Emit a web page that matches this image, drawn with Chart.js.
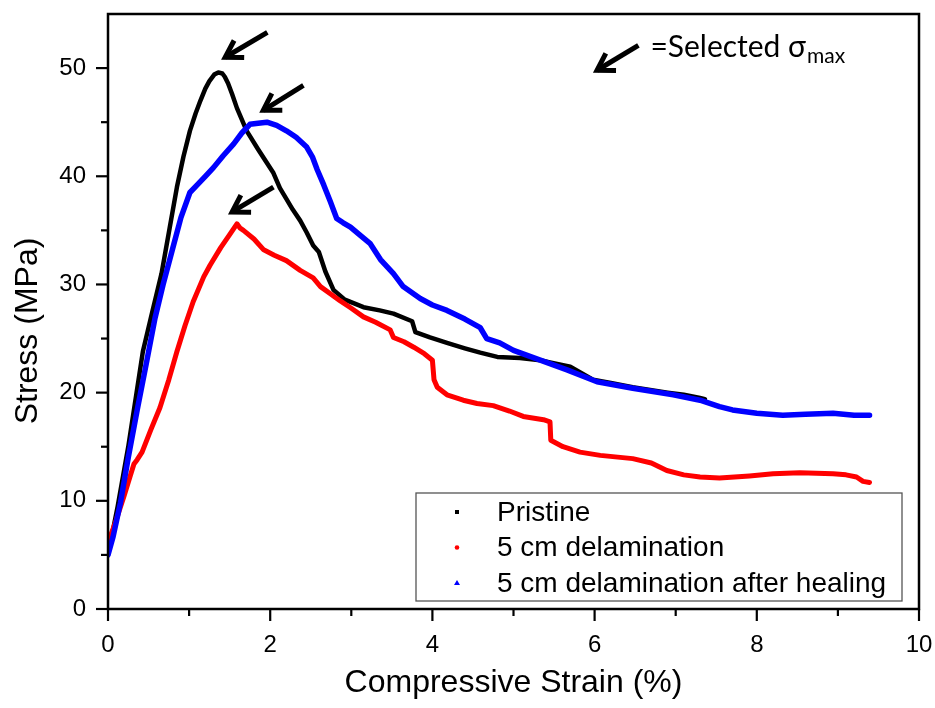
<!DOCTYPE html>
<html><head><meta charset="utf-8">
<script src="https://cdn.jsdelivr.net/npm/chart.js@4.4.0/dist/chart.umd.min.js"></script>
<style>html,body{margin:0;padding:0;background:#fff;}canvas{display:block;}</style>
</head><body>
<canvas id="c" width="935" height="708"></canvas>
<script>
// ---- data ----
const seriesLabels = ['Pristine', '5 cm delamination', '5 cm delamination after healing'];

const pristineX = [0, 0.12, 0.25, 0.43, 0.55, 0.66, 0.76, 0.85, 0.93, 1.01, 1.08, 1.14, 1.2, 1.25, 1.31, 1.36, 1.41, 1.44, 1.48, 1.53, 1.59, 1.71, 1.85, 2.04, 2.12, 2.28, 2.37, 2.45, 2.53, 2.6, 2.68, 2.78, 2.92, 3.15, 3.35, 3.52, 3.75, 3.79, 3.97, 4.18, 4.4, 4.59, 4.8, 5.08, 5.33, 5.45, 5.7, 5.98, 6.2, 6.47, 6.9, 7.1, 7.3, 7.36];
const pristineY = [5, 9.5, 15, 23.8, 27.6, 31, 35.2, 39, 41.8, 44.2, 45.8, 47, 48.1, 48.8, 49.4, 49.6, 49.5, 49.2, 48.6, 47.6, 46.3, 44.2, 42.5, 40.3, 38.9, 36.9, 35.9, 34.8, 33.6, 33.0, 31.2, 29.5, 28.6, 27.9, 27.6, 27.3, 26.6, 25.6, 25.1, 24.6, 24.1, 23.7, 23.3, 23.2, 23.0, 22.8, 22.4, 21.2, 20.9, 20.5, 20.0, 19.8, 19.5, 19.4];

const delamX = [0, 0.1, 0.2, 0.27, 0.32, 0.36, 0.42, 0.53, 0.64, 0.75, 0.85, 0.95, 1.05, 1.18, 1.26, 1.39, 1.5, 1.59, 1.63, 1.67, 1.8, 1.92, 2.05, 2.2, 2.37, 2.53, 2.62, 2.75, 2.86, 3.0, 3.15, 3.3, 3.48, 3.52, 3.65, 3.77, 3.9, 4.0, 4.02, 4.06, 4.18, 4.38, 4.55, 4.75, 4.95, 5.12, 5.37, 5.45, 5.46, 5.61, 5.82, 6.07, 6.47, 6.7, 6.89, 7.1, 7.3, 7.54, 7.91, 8.2, 8.53, 8.94, 9.1, 9.23, 9.31, 9.39];
const delamY = [6.1, 8.2, 10.5, 12.2, 13.4, 13.8, 14.5, 16.6, 18.6, 21.2, 23.8, 26.2, 28.4, 30.7, 31.8, 33.4, 34.6, 35.6, 35.2, 35.0, 34.2, 33.2, 32.7, 32.2, 31.3, 30.6, 29.8, 29.1, 28.5, 27.8, 27.0, 26.5, 25.8, 25.1, 24.7, 24.2, 23.6, 23.0, 21.2, 20.5, 19.8, 19.3, 19.0, 18.8, 18.3, 17.8, 17.5, 17.3, 15.6, 15.0, 14.5, 14.2, 13.9, 13.5, 12.8, 12.4, 12.2, 12.1, 12.3, 12.5, 12.6, 12.5, 12.4, 12.2, 11.8, 11.7];

const healedX = [0, 0.06, 0.153, 0.25, 0.36, 0.48, 0.58, 0.68, 0.8, 0.9, 1.01, 1.1, 1.2, 1.3, 1.42, 1.55, 1.65, 1.75, 1.85, 1.96, 2.08, 2.2, 2.32, 2.45, 2.52, 2.58, 2.66, 2.74, 2.82, 2.9, 2.99, 3.1, 3.23, 3.36, 3.52, 3.64, 3.85, 4.0, 4.18, 4.4, 4.59, 4.67, 4.83, 5.0, 5.33, 5.66, 6.03, 6.47, 6.97, 7.3, 7.54, 7.7, 8.0, 8.32, 8.6, 8.94, 9.2, 9.39];
const healedY = [5, 6.6, 9.8, 14, 18.4, 23, 26.9, 30, 33.4, 36.2, 38.5, 39.2, 40.0, 40.8, 41.9, 43.0, 44.0, 44.8, 44.9, 45.0, 44.7, 44.2, 43.6, 42.7, 41.8, 40.6, 39.2, 37.7, 36.1, 35.7, 35.3, 34.6, 33.8, 32.3, 31.0, 29.8, 28.7, 28.1, 27.6, 26.8, 26.0, 25.0, 24.6, 23.9, 23.0, 22.1, 21.0, 20.4, 19.8, 19.3, 18.7, 18.4, 18.1, 17.9, 18.0, 18.1, 17.9, 17.9];

const xTickValues = [0, 2, 4, 6, 8, 10];
const yTickValues = [0, 10, 20, 30, 40, 50];
const xTitle = 'Compressive Strain (%)';
const yTitle = 'Stress (MPa)';

// selected sigma_max arrows: [tailX, tailY, tipX, tipY] in data units
const peakArrows = [
  [1.965, 53.3, 1.445, 51.0],
  [2.41, 48.4, 1.915, 46.1],
  [2.04, 39.0, 1.53, 36.7]
];
const noteArrow = [6.54, 52.1, 6.03, 49.8];
const noteText = '=Selected σ';
const noteSub = 'max';

const colors = ['#000000', '#ff0000', '#0000ff'];
const markers = ['rect', 'circle', 'triangle'];

function pts(xs, ys) { return xs.map((x, i) => ({ x: x, y: ys[i] })); }

const datasets = [
  { label: seriesLabels[0], data: pts(pristineX, pristineY), borderColor: colors[0], borderWidth: 4.5, order: 2 },
  { label: seriesLabels[1], data: pts(delamX, delamY), borderColor: colors[1], borderWidth: 5, order: 1 },
  { label: seriesLabels[2], data: pts(healedX, healedY), borderColor: colors[2], borderWidth: 5.5, order: 0 }
].map(d => Object.assign(d, { pointRadius: 0, tension: 0, fill: false, showLine: true, borderJoinStyle: 'round', borderCapStyle: 'round' }));

function drawArrow(ctx, x1, y1, x2, y2) {
  ctx.beginPath(); ctx.moveTo(x1, y1); ctx.lineTo(x2, y2); ctx.stroke();
  const a = Math.atan2(y2 - y1, x2 - x1), L = 19, w = 0.55;
  ctx.beginPath();
  ctx.moveTo(x2 - L * Math.cos(a - w), y2 - L * Math.sin(a - w));
  ctx.lineTo(x2, y2);
  ctx.lineTo(x2 - L * Math.cos(a + w), y2 - L * Math.sin(a + w));
  ctx.stroke();
}

const decor = {
  id: 'decor',
  afterDraw(chart) {
    const ctx = chart.ctx, ca = chart.chartArea;
    const xs = chart.scales.x, ys = chart.scales.y;
    ctx.save();
    // frame
    ctx.strokeStyle = '#000'; ctx.lineWidth = 2.5;
    ctx.strokeRect(ca.left, ca.top, ca.right - ca.left, ca.bottom - ca.top);
    // ticks
    ctx.lineWidth = 2.2;
    xs.ticks.forEach(t => {
      const p = xs.getPixelForValue(t.value);
      const len = (t.value % 2 === 0) ? 12 : 7;
      ctx.beginPath(); ctx.moveTo(p, ca.bottom); ctx.lineTo(p, ca.bottom + len); ctx.stroke();
    });
    ys.ticks.forEach(t => {
      if (t.value >= ys.max) return;
      const p = ys.getPixelForValue(t.value);
      const len = (t.value % 10 === 0) ? 12 : 7;
      ctx.beginPath(); ctx.moveTo(ca.left, p); ctx.lineTo(ca.left - len, p); ctx.stroke();
    });
    // axis titles
    ctx.fillStyle = '#000';
    ctx.font = '32px "Liberation Sans", Arial, sans-serif';
    ctx.textAlign = 'center'; ctx.textBaseline = 'alphabetic';
    ctx.fillText(xTitle, (ca.left + ca.right) / 2, 692);
    ctx.save();
    ctx.translate(37, 331); ctx.rotate(-Math.PI / 2);
    ctx.fillText(yTitle, 0, 0);
    ctx.restore();
    // arrows
    ctx.lineWidth = 5; ctx.lineCap = 'butt'; ctx.lineJoin = 'miter'; ctx.strokeStyle = '#000';
    peakArrows.concat([noteArrow]).forEach(a => {
      drawArrow(ctx, xs.getPixelForValue(a[0]), ys.getPixelForValue(a[1]), xs.getPixelForValue(a[2]), ys.getPixelForValue(a[3]));
    });
    // note text
    ctx.textAlign = 'left'; ctx.textBaseline = 'alphabetic';
    ctx.font = '30px Lato, "Open Sans", sans-serif';
    const nx = xs.getPixelForValue(noteArrow[0]) + 12, ny = 57;
    ctx.fillText(noteText, nx, ny);
    const w = ctx.measureText(noteText).width;
    ctx.font = '21px Lato, "Open Sans", sans-serif';
    ctx.fillText(noteSub, nx + w + 1, ny + 6);
    // legend box
    const lb = { l: 416, t: 493, r: 902, b: 601 };
    ctx.fillStyle = '#fff';
    ctx.fillRect(lb.l, lb.t, lb.r - lb.l, lb.b - lb.t);
    ctx.strokeStyle = '#555'; ctx.lineWidth = 1.3;
    ctx.strokeRect(lb.l, lb.t, lb.r - lb.l, lb.b - lb.t);
    ctx.font = '28px "Liberation Sans", Arial, sans-serif';
    ctx.textBaseline = 'middle';
    chart.data.datasets.forEach((d, i) => {
      const cy = 512 + i * 35.5, mx = 457;
      ctx.fillStyle = d.borderColor;
      ctx.beginPath();
      if (markers[i] === 'rect') ctx.rect(mx - 2, cy - 2, 4, 4);
      else if (markers[i] === 'circle') ctx.arc(mx, cy, 2.3, 0, Math.PI * 2);
      else { ctx.moveTo(mx, cy - 3); ctx.lineTo(mx + 3, cy + 2); ctx.lineTo(mx - 3, cy + 2); ctx.closePath(); }
      ctx.fill();
      ctx.fillStyle = '#000';
      ctx.fillText(d.label, 497, cy + 1);
    });
    ctx.restore();
  }
};

new Chart(document.getElementById('c'), {
  type: 'line',
  data: { datasets: datasets },
  options: {
    responsive: false,
    devicePixelRatio: 1,
    animation: false,
    layout: { padding: { top: 14, right: 16, left: 0, bottom: 0 } },
    plugins: { legend: { display: false }, tooltip: { enabled: false } },
    scales: {
      x: {
        type: 'linear', min: 0, max: 10,
        afterBuildTicks: s => { s.ticks = [0,1,2,3,4,5,6,7,8,9,10].map(v => ({ value: v })); },
        afterFit: s => { s.height = 99; s.paddingLeft = 0; s.paddingRight = 0; s.paddingTop = 0; s.paddingBottom = 0; },
        grid: { display: false, drawTicks: false },
        border: { display: false },
        ticks: {
          autoSkip: false, maxRotation: 0, padding: 22, color: '#000',
          font: { family: '"Liberation Sans", Arial, sans-serif', size: 24 },
          callback: v => xTickValues.includes(v) ? String(v) : ''
        }
      },
      y: {
        type: 'linear', min: 0, max: 55,
        afterBuildTicks: s => { s.ticks = [0,5,10,15,20,25,30,35,40,45,50,55].map(v => ({ value: v })); },
        afterFit: s => { s.width = 108; s.paddingLeft = 0; s.paddingRight = 0; s.paddingTop = 0; s.paddingBottom = 0; },
        grid: { display: false, drawTicks: false },
        border: { display: false },
        ticks: {
          autoSkip: false, padding: 22, color: '#000',
          font: { family: '"Liberation Sans", Arial, sans-serif', size: 24 },
          callback: v => yTickValues.includes(v) ? String(v) : ''
        }
      }
    }
  },
  plugins: [decor]
});
</script>
</body></html>
